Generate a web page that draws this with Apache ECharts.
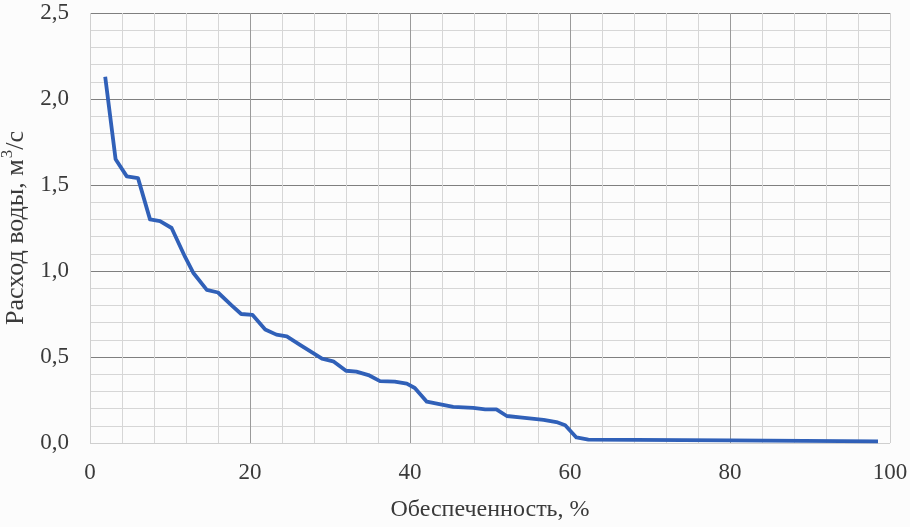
<!DOCTYPE html>
<html>
<head>
<meta charset="utf-8">
<script src="https://cdn.jsdelivr.net/npm/echarts@6/dist/echarts.min.js"></script>
<style>
html,body{margin:0;padding:0;background:#fcfcfc;}
#chart{width:910px;height:527px;}
</style>
</head>
<body>
<div id="chart"></div>
<script>
const probability = [1.9, 3.2, 4.6, 6.0, 7.5, 8.75, 10.2, 11.9, 12.9, 14.6, 16.0, 17.7, 18.9, 20.3, 21.9, 23.3, 24.6, 26.25, 29.0, 30.4, 32.0, 33.3, 34.8, 36.25, 38.1, 39.6, 40.6, 42.1, 45.4, 47.9, 49.4, 50.8, 52.1, 53.75, 56.7, 58.3, 59.4, 60.8, 62.3, 80.0, 98.5];
const discharge = [2.13, 1.65, 1.55, 1.54, 1.30, 1.29, 1.25, 1.08, 0.99, 0.89, 0.875, 0.80, 0.75, 0.745, 0.66, 0.63, 0.62, 0.57, 0.49, 0.475, 0.42, 0.415, 0.395, 0.36, 0.357, 0.345, 0.32, 0.24, 0.21, 0.204, 0.195, 0.195, 0.157, 0.149, 0.135, 0.122, 0.103, 0.032, 0.02, 0.015, 0.01];
const xTicks = [0, 20, 40, 60, 80, 100];
const yTicks = [0, 0.5, 1.0, 1.5, 2.0, 2.5];
const xName = 'Обеспеченность, %';
const yNameMain = 'Расход воды, м';
const yNameSup = '3';
const yNameTail = '/с';

const chart = echarts.init(document.getElementById('chart'));
const font = '"Liberation Serif", "DejaVu Serif", serif';
const txt = '#3a3a3a';
chart.setOption({
  backgroundColor: '#fcfcfc',
  animation: false,
  grid: {left: 90, right: 20, top: 13, bottom: 84, containLabel: false, outerBoundsMode: 'none'},
  xAxis: {
    type: 'value', min: xTicks[0], max: xTicks[xTicks.length-1], interval: 20,
    name: xName, nameLocation: 'middle', nameGap: 55,
    nameTextStyle: {fontFamily: font, fontSize: 24, color: txt, verticalAlign: 'top'},
    axisLine: {show: false}, axisTick: {show: false},
    axisLabel: {fontFamily: font, fontSize: 23, color: txt, margin: 18},
    splitLine: {show: true, lineStyle: {color: ['#cfcfcf','#9a9a9a','#9a9a9a','#9a9a9a','#9a9a9a','#cfcfcf'], width: 1}},
    minorTick: {show: false, splitNumber: 5},
    minorSplitLine: {show: true, lineStyle: {color: '#d6d6d6', width: 1}}
  },
  yAxis: {
    type: 'value', min: yTicks[0], max: yTicks[yTicks.length-1], interval: 0.5,
    name: '{a|' + yNameMain + '}{s|' + yNameSup + '}{a|' + yNameTail + '}',
    nameLocation: 'middle', nameGap: 61,
    nameTextStyle: {fontFamily: font, fontSize: 26, color: txt,
      rich: {
        a: {fontFamily: font, fontSize: 26, color: txt, lineHeight: 30, verticalAlign: 'bottom'},
        s: {fontFamily: font, fontSize: 17, color: txt, lineHeight: 30, verticalAlign: 'top', padding: [0, 0, 0, 1]}
      }},
    axisLine: {show: false}, axisTick: {show: false},
    axisLabel: {fontFamily: font, fontSize: 23, color: txt, margin: 21,
      formatter: v => v.toFixed(1).replace('.', ',')},
    splitLine: {show: true, lineStyle: {color: ['#cfcfcf','#7f7f7f','#7f7f7f','#7f7f7f','#7f7f7f','#7f7f7f'], width: 1}},
    minorTick: {show: false, splitNumber: 5},
    minorSplitLine: {show: true, lineStyle: {color: '#d6d6d6', width: 1}}
  },
  series: [{
    type: 'line',
    data: probability.map((p, i) => [p, discharge[i]]),
    showSymbol: false,
    lineStyle: {color: '#3060b8', width: 3.8, join: 'round'},
    itemStyle: {color: '#3060b8'}
  }]
});
</script>
</body>
</html>
